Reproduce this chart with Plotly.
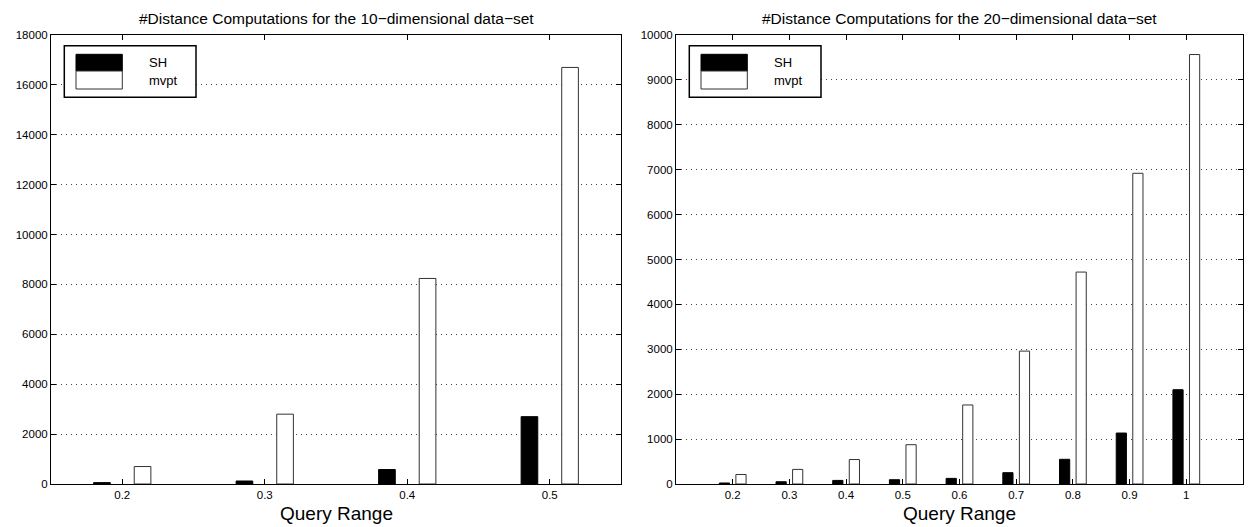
import plotly.graph_objects as go

# ---------------- data ----------------
series_names = ["SH", "mvpt"]

ranges_10d = [0.2, 0.3, 0.4, 0.5]
tick_text_10d = ["0.2", "0.3", "0.4", "0.5"]
sh_10d = [55, 120, 580, 2700]
mvpt_10d = [700, 2800, 8240, 16700]

ranges_20d = [0.2, 0.3, 0.4, 0.5, 0.6, 0.7, 0.8, 0.9, 1.0]
tick_text_20d = ["0.2", "0.3", "0.4", "0.5", "0.6", "0.7", "0.8", "0.9", "1"]
sh_20d = [22, 50, 80, 95, 125, 252, 550, 1135, 2100]
mvpt_20d = [212, 325, 545, 875, 1760, 2960, 4720, 6920, 9565]

yticks_10d = list(range(0, 18001, 2000))
yticks_20d = list(range(0, 10001, 1000))

title_10d = "#Distance Computations for the 10\u2212dimensional data\u2212set"
title_20d = "#Distance Computations for the 20\u2212dimensional data\u2212set"
x_title = "Query Range"

# ---------------- layout geometry ----------------
W, H = 1248, 527
plot_top, plot_bottom = 35, 484
left_x0, left_x1 = 51, 621
right_x0, right_x1 = 676, 1243

FONT = "Liberation Sans, Arial, Helvetica, sans-serif"

fig = go.Figure()

def add_pair(xs, sh, mv, width, offs, xa, ya):
    fig.add_trace(go.Bar(
        x=xs, y=sh, name=series_names[0], width=width, offset=-offs - width / 2,
        marker=dict(color="black", line=dict(color="black", width=1)),
        xaxis=xa, yaxis=ya, showlegend=False))
    fig.add_trace(go.Bar(
        x=xs, y=mv, name=series_names[1], width=width, offset=offs - width / 2,
        marker=dict(color="white", line=dict(color="#333", width=1)),
        xaxis=xa, yaxis=ya, showlegend=False))

add_pair(ranges_10d, sh_10d, mvpt_10d, 0.0117, 0.01425, "x", "y")
add_pair(ranges_20d, sh_20d, mvpt_20d, 0.018, 0.0146, "x2", "y2")

ydom = [(H - plot_bottom) / H, (H - plot_top) / H]

axis_common = dict(
    showline=True, linecolor="black", linewidth=1, mirror="ticks",
    ticks="inside", ticklen=5, tickcolor="black", tickwidth=1,
    tickfont=dict(family=FONT, size=11.5, color="black"),
    zeroline=False, automargin=False,
)

fig.update_layout(
    width=W, height=H,
    margin=dict(l=0, r=0, t=0, b=0),
    paper_bgcolor="white", plot_bgcolor="white",
    barmode="overlay",
    xaxis=dict(domain=[left_x0 / W, left_x1 / W], range=[0.15, 0.55],
               tickvals=ranges_10d, ticktext=tick_text_10d, showgrid=False,
               anchor="y", **axis_common),
    yaxis=dict(domain=ydom, range=[0, 18000], tickvals=yticks_10d, tickformat="d",
               showgrid=True, gridcolor="#444", griddash="1px,4px", gridwidth=1,
               anchor="x", **axis_common),
    xaxis2=dict(domain=[right_x0 / W, right_x1 / W], range=[0.1, 1.1],
                tickvals=ranges_20d, ticktext=tick_text_20d, showgrid=False,
                anchor="y2", **axis_common),
    yaxis2=dict(domain=ydom, range=[0, 10000], tickvals=yticks_20d, tickformat="d",
                showgrid=True, gridcolor="#444", griddash="1px,4px", gridwidth=1,
                anchor="x2", **axis_common),
)

# titles and axis labels
for x0, x1, t in [(left_x0, left_x1, title_10d), (right_x0, right_x1, title_20d)]:
    cx = (x0 + x1) / 2 / W
    fig.add_annotation(x=cx, y=(H - 18) / H, xref="paper", yref="paper",
                       text=t, showarrow=False, xanchor="center", yanchor="middle",
                       font=dict(family=FONT, size=15.5, color="black"))
    fig.add_annotation(x=cx, y=(H - 513) / H, xref="paper", yref="paper",
                       text=x_title, showarrow=False, xanchor="center", yanchor="middle",
                       font=dict(family=FONT, size=19, color="black"))

# legends (drawn as boxes in axis-domain coordinates)
ph = plot_bottom - plot_top

def add_legend(xref, yref, pw):
    def fx(px):
        return px / pw
    def fy(py):
        return (plot_bottom - py) / ph
    xr, yr = xref + " domain", yref + " domain"
    fig.add_shape(type="rect", xref=xr, yref=yr, x0=fx(13.3), x1=fx(145), y0=fy(97.3), y1=fy(45.7),
                  line=dict(color="black", width=1.5), fillcolor="white", layer="above")
    fig.add_shape(type="rect", xref=xr, yref=yr, x0=fx(25), x1=fx(71.3), y0=fy(71), y1=fy(54.3),
                  line=dict(color="black", width=1), fillcolor="black", layer="above")
    fig.add_shape(type="rect", xref=xr, yref=yr, x0=fx(25), x1=fx(71.3), y0=fy(89), y1=fy(71),
                  line=dict(color="#333", width=1), fillcolor="white", layer="above")
    for name, ypx in zip(series_names, [62.5, 80]):
        fig.add_annotation(x=fx(96), y=fy(ypx), xref=xr, yref=yr, text=name,
                           showarrow=False, xanchor="left", yanchor="middle",
                           font=dict(family=FONT, size=13, color="black"))

add_legend("x", "y", left_x1 - left_x0)
add_legend("x2", "y2", right_x1 - right_x0)

fig.write_html("out.html", config={"displayModeBar": False},
               post_script="document.body.style.margin='0';")
